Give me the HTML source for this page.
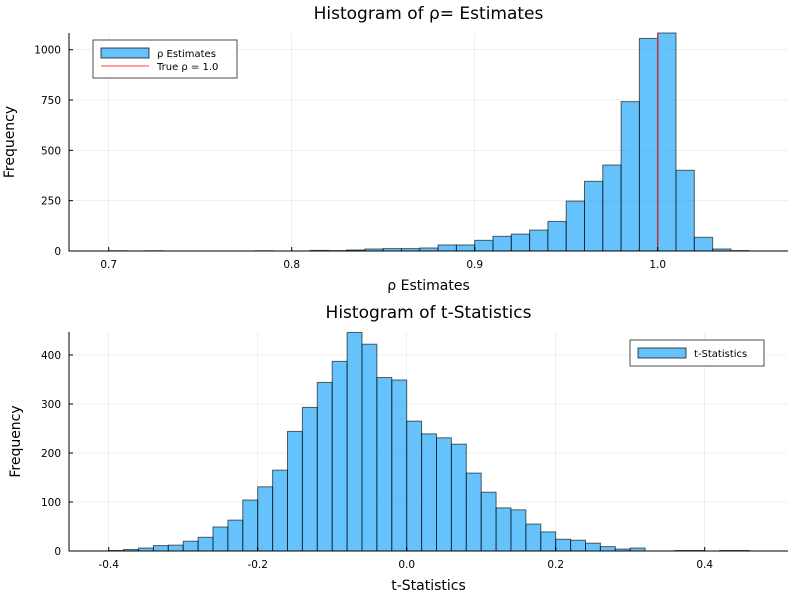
<!DOCTYPE html>
<html><head><meta charset="utf-8"><style>
body{margin:0;background:#fff}
svg text{font-family:"DejaVu Sans","Liberation Sans",sans-serif;fill:#000}
</style></head><body>
<svg id="c" width="800" height="600" xmlns="http://www.w3.org/2000/svg"></svg>
<script>
const rhoBinStart = 0.70;
const rhoBinWidth = 0.01;
const rhoCounts = [1,0,1,0,0,0,0,0,1,0, 0,3,2,5,10,12,12,15,30,30, 53,73,84,104,147,248,346,427,742,1056, 1083,401,68,10,2];
const rhoXTicks = [0.7,0.8,0.9,1.0];
const rhoXTickLabels = ["0.7","0.8","0.9","1.0"];
const rhoYTicks = [0,250,500,750,1000];
const trueRho = [1.0];

const tBinStart = -0.40;
const tBinWidth = 0.02;
const tCounts = [1,3,6,11,12,20,28,49,63,104, 131,165,244,293,344,387,446,422,354,349, 265,239,231,218,159,120,88,84,55,39, 24,22,16,9,4,6,0,0,1,1, 0,1,1];
const tXTicks = [-0.4,-0.2,0.0,0.2,0.4];
const tXTickLabels = ["-0.4","-0.2","0.0","0.2","0.4"];
const tYTicks = [0,100,200,300,400];

const NS="http://www.w3.org/2000/svg";
const svg=document.getElementById('c');
function mk(tag,attrs,parent){const e=document.createElementNS(NS,tag);for(const k in attrs)e.setAttribute(k,attrs[k]);(parent||svg).appendChild(e);return e;}

function panel(o){
  const g=mk('g',{});
  
  
  const X=v=>o.x0+(v-o.xv0)*o.xs;
  const Y=v=>o.yb-v*o.ys;
  o.xt.forEach(v=>{const l=mk('line',{x1:X(v),x2:X(v),y1:o.top,y2:o.yb,stroke:'#000','stroke-opacity':0.1,'stroke-width':0.6},g);
    });
  o.yt.forEach(v=>{const l=mk('line',{x1:o.left,x2:o.right,y1:Y(v),y2:Y(v),stroke:'#000','stroke-opacity':0.1,'stroke-width':0.6},g);
    });
  o.counts.forEach((c,i)=>{if(c<=0)return;const a=o.b0+i*o.bw,b=a+o.bw;
    const r=mk('rect',{x:X(a),y:Y(c),width:X(b)-X(a),height:Y(0)-Y(c),fill:'#009af9','fill-opacity':0.6,stroke:'#000','stroke-opacity':0.6,'stroke-width':1},g);
    });
  if(o.vline){o.vline.forEach(v=>{const l=mk('line',{x1:X(v),x2:X(v),y1:o.top,y2:o.yb,stroke:'#d62728','stroke-width':1.2},g);
    });}
  const ax=mk('path',{d:`M${o.left} ${o.top}V${o.yb}H${o.right}`,stroke:'#000',fill:'none','stroke-width':1},g);
  
  o.xt.forEach((v,i)=>{mk('line',{x1:X(v),x2:X(v),y1:o.yb,y2:o.yb-4,stroke:'#000'},g);
    const t=mk('text',{x:X(v),y:o.yb+17,'text-anchor':'middle','font-size':10.5},g);t.textContent=o.xl[i];
    });
  o.yt.forEach(v=>{mk('line',{x1:o.left,x2:o.left+4,y1:Y(v),y2:Y(v),stroke:'#000'},g);
    const t=mk('text',{x:o.left-8,y:Y(v)+4,'text-anchor':'end','font-size':10.5},g);t.textContent=String(v);
    });
  const ti=mk('text',{x:(o.left+o.right)/2,y:o.top-14,'text-anchor':'middle','font-size':17},g);ti.textContent=o.title;
  
  const xl=mk('text',{x:(o.left+o.right)/2,y:o.yb+39,'text-anchor':'middle','font-size':14},g);xl.textContent=o.xlabel;
  
  const cy=(o.top+o.yb)/2;
  const yl=mk('text',{x:o.ylx,y:cy,'text-anchor':'middle','font-size':14,transform:`rotate(-90 ${o.ylx} ${cy})`},g);yl.textContent='Frequency';
  
  return g;
}

panel({name:'rho-histogram',left:69,right:788,top:33,yb:251,x0:108.7,xv0:0.7,xs:1830,ys:0.2013,
  counts:rhoCounts,b0:rhoBinStart,bw:rhoBinWidth,xt:rhoXTicks,xl:rhoXTickLabels,yt:rhoYTicks,vline:trueRho,
  title:'Histogram of ρ= Estimates',xlabel:'ρ Estimates',ylx:14});
panel({name:'t-stat-histogram',left:69,right:788,top:332,yb:551,x0:406.7,xv0:0,xs:745,ys:0.49,
  counts:tCounts,b0:tBinStart,bw:tBinWidth,xt:tXTicks,xl:tXTickLabels,yt:tYTicks,
  title:'Histogram of t-Statistics',xlabel:'t-Statistics',ylx:20});

const lg1=mk('g',{});


mk('rect',{x:93,y:40,width:144,height:38,fill:'#fff',stroke:'#000','stroke-opacity':0.7},lg1);
mk('rect',{x:101,y:48,width:48,height:10,fill:'#009af9','fill-opacity':0.6,stroke:'#000','stroke-opacity':0.7},lg1);
mk('line',{x1:101,x2:149,y1:66,y2:66,stroke:'#ff0000','stroke-opacity':0.5,'stroke-width':1.5},lg1);
let t=mk('text',{x:157,y:57,'font-size':10},lg1);t.textContent='ρ Estimates';

t=mk('text',{x:157,y:70,'font-size':10},lg1);t.textContent='True ρ = 1.0';


const lg2=mk('g',{});


mk('rect',{x:630,y:340,width:134,height:26,fill:'#fff',stroke:'#000','stroke-opacity':0.7},lg2);
mk('rect',{x:638,y:348,width:48,height:10,fill:'#009af9','fill-opacity':0.6,stroke:'#000','stroke-opacity':0.7},lg2);
t=mk('text',{x:694,y:357,'font-size':10},lg2);t.textContent='t-Statistics';

</script>
</body></html>
